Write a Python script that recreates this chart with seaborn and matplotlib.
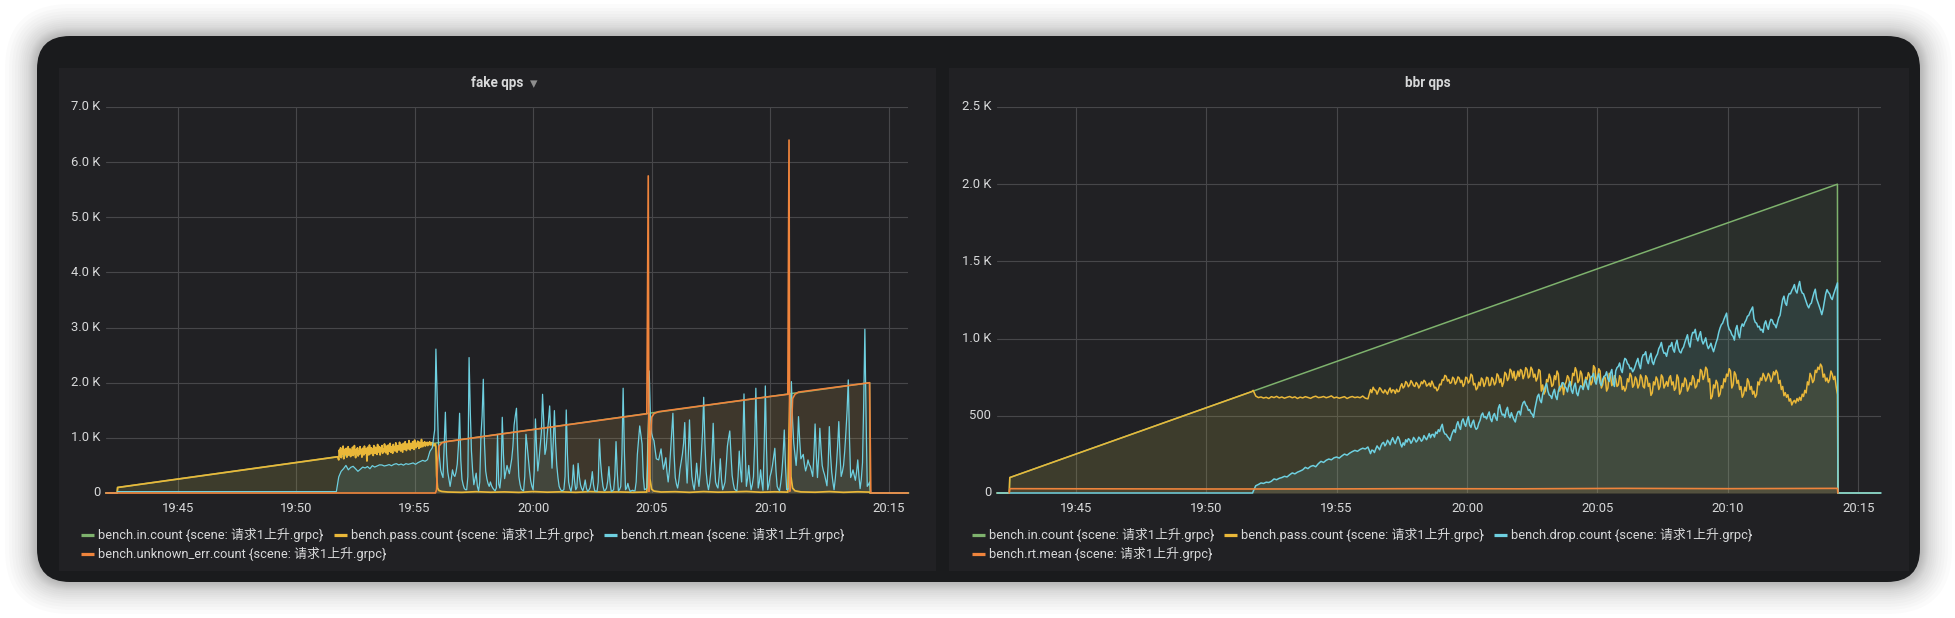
import numpy as np
import matplotlib
matplotlib.use("Agg")
import matplotlib.pyplot as plt
from matplotlib.patches import FancyBboxPatch, Rectangle
from matplotlib.lines import Line2D
from matplotlib.transforms import ScaledTranslation
import seaborn as sns

# time is minutes after 19:00
x_ticks = [45, 50, 55, 60, 65, 70, 75]
x_labels = ["19:45", "19:50", "19:55", "20:00", "20:05", "20:10", "20:15"]

fake_yticks = [0, 1000, 2000, 3000, 4000, 5000, 6000, 7000]
fake_ylabels = ["0", "1.0 K", "2.0 K", "3.0 K", "4.0 K", "5.0 K", "6.0 K", "7.0 K"]
bbr_yticks = [0, 500, 1000, 1500, 2000, 2500]
bbr_ylabels = ["0", "500", "1.0 K", "1.5 K", "2.0 K", "2.5 K"]

# offered load, same shape in both panels
in_t = [41.98, 42.45, 42.47, 45, 50, 55, 60, 65, 70, 74.2, 74.22, 75.85]
in_v = [0, 0, 100, 252, 552, 852, 1152, 1452, 1750, 2000, 0, 0]

ramp_t = [41.98, 42.45, 42.47, 45, 50, 51.75]
ramp_v = [0, 0, 100, 252, 552, 657]

# fake qps: pass.count from 19:51.8 to 19:55.9 while it still passes
fake_pass_noisy = [
    600, 780, 690, 820, 640, 760, 710, 850, 620, 790, 700, 730, 810, 650, 760, 840, 690, 720, 800, 660,
    770, 700, 830, 680, 750, 860, 710, 640, 790, 730, 820, 670, 760, 700, 840, 720, 780, 650, 810, 740,
    690, 850, 760, 720, 800, 580, 830, 750, 690, 870, 770, 710, 820, 740, 790, 680, 860, 760, 720, 830,
    770, 700, 880, 790, 740, 840, 690, 810, 770, 860, 720, 800, 750, 890, 780, 730, 850, 790, 700, 870,
    810, 760, 900, 740, 840, 800, 720, 880, 790, 830, 760, 910, 810, 740, 860, 800, 780, 920, 830, 760,
    880, 810, 740, 900, 850, 790, 930, 820, 770, 890, 840, 800, 950, 830, 780, 900, 860, 810, 930, 850,
    790, 960, 870, 820, 900, 850, 940, 880, 810, 920, 860, 830, 970, 880, 840, 910, 870, 930, 850, 900,
    880, 920, 860, 910, 890, 930, 870, 905, 880, 915, 850, 900, 880, 860, 890, 840,
]
fake_pass_tail_t = [55.93, 55.97, 56.03, 56.15, 56.4, 57, 57.6, 58.2, 58.8, 59.4, 60,
                    60.6, 61.2, 61.8, 62.4, 63, 63.6, 64.2, 64.8, 64.85, 64.89, 64.93, 65.0,
                    65.1, 65.4, 66, 66.6, 67.2, 67.8, 68.4, 69, 69.6, 70.2, 70.75, 70.8,
                    70.84, 70.88, 70.95, 71.05, 71.3, 71.9, 72.5, 73.1, 73.7, 74.2, 74.22, 75.82]
fake_pass_tail = [320, 90, 45, 28, 18, 12, 24, 14, 20, 11, 26,
                  15, 22, 12, 25, 16, 20, 13, 18, 900, 1430, 260, 70,
                  35, 18, 24, 12, 26, 15, 20, 28, 14, 22, 16, 1100,
                  1780, 300, 90, 40, 20, 14, 26, 12, 22, 16, 0, 0]

# fake qps: rt.mean
fake_rt_flat_t = [41.98, 42.45, 42.47, 45, 48, 51.7]
fake_rt_flat = [0, 0, 25, 25, 24, 25]
fake_rt_early = [
    290, 393, 440, 500, 420, 465, 484, 440, 393, 430,
    470, 454, 480, 440, 496, 470, 490, 510, 508, 490,
    500, 515, 495, 520, 532, 510, 525, 505, 532, 520,
    532, 545, 520, 550, 570, 592, 575, 605, 755, 820,
    1150,
]
fake_rt_late = [
    2610, 1800, 968, 650, 420, 340, 280, 900, 1465, 700, 380, 250, 120, 260, 420, 330, 300, 380, 520, 860,
    1446, 600, 250, 150, 80, 60, 60, 300, 2456, 1500, 760, 400, 150, 260, 360, 120, 40, 200, 1035, 1400,
    2063, 900, 400, 260, 170, 120, 200, 130, 90, 60, 40, 90, 1053, 160, 90, 300, 1373, 700, 260, 380,
    500, 420, 350, 480, 620, 850, 1234, 1400, 1537, 800, 300, 160, 70, 50, 40, 300, 1065, 860, 620, 400,
    220, 120, 60, 400, 1343, 800, 400, 600, 850, 1100, 1790, 1300, 700, 800, 1083, 1300, 1579, 1000, 450, 900,
    1494, 900, 500, 280, 120, 70, 40, 45, 60, 300, 1506, 700, 200, 90, 30, 150, 508, 220, 60, 100,
    538, 300, 150, 80, 40, 120, 236, 90, 30, 50, 90, 200, 387, 150, 40, 35, 30, 200, 974, 550,
    300, 120, 40, 50, 90, 220, 478, 180, 30, 40, 60, 300, 932, 400, 40, 60, 120, 700, 1900, 800,
    60, 90, 175, 80, 30, 40, 50, 40, 40, 200, 700, 950, 1216, 1050, 889, 300, 60, 70, 90, 700,
    2214, 1400, 1083, 1000, 950, 780, 620, 610, 600, 700, 800, 600, 430, 520, 640, 380, 200, 400, 760, 1100,
    1446, 700, 280, 160, 90, 220, 430, 560, 700, 900, 1277, 600, 180, 700, 1325, 700, 300, 150, 60, 250,
    540, 280, 120, 350, 700, 1100, 1736, 900, 400, 180, 60, 180, 380, 700, 1264, 600, 200, 130, 90, 300,
    620, 250, 60, 120, 200, 500, 850, 1000, 1125, 700, 320, 170, 70, 50, 40, 300, 760, 420, 200, 900,
    1797, 800, 120, 260, 500, 230, 60, 150, 300, 900, 1900, 900, 90, 200, 420, 200, 50, 800, 1942, 800,
    60, 150, 300, 380, 500, 650, 811, 400, 120, 70, 40, 180, 380, 700, 1143, 500, 60, 70, 80, 900,
    2020, 1300, 900, 700, 500, 800, 1385, 950, 620, 660, 700, 520, 400, 480, 600, 520, 480, 390, 300, 700,
    1252, 700, 280, 650, 1174, 800, 500, 400, 330, 230, 130, 500, 1204, 700, 380, 200, 60, 250, 500, 850,
    1295, 700, 300, 380, 500, 760, 1100, 1500, 2051, 1000, 280, 340, 420, 320, 230, 380, 600, 300, 80, 250,
    550, 1600, 2970, 1400, 120, 150, 200,
]

# fake qps: unknown_err.count
fake_err_t = [41.98, 55.88, 55.93, 55.97, 56.03, 56.15, 56.4, 60, 64.8, 64.86, 64.89, 64.93,
              65.0, 65.1, 65.3, 70, 70.75, 70.8, 70.83, 70.88, 70.95, 71.05, 71.2, 74.2, 74.25, 75.82]
fake_err = [0, 0, 60, 560, 850, 910, 935, 1150, 1437, 5750, 30, 800,
            1370, 1440, 1475, 1750, 1790, 6400, 30, 900, 1710, 1790, 1830, 2000, 0, 0]

# bbr qps: pass.count, flat part 19:51.8-19:56.2 then the noisy part to 20:14.2
bbr_pass_flat = [
    665, 628, 618, 622, 615, 620, 612, 624, 618, 626,
    616, 622, 614, 620, 625, 617, 623, 612, 621, 616,
    624, 619, 613, 622, 627, 618, 620, 625, 617, 622,
    629, 616, 621, 614, 619, 624, 612, 620, 625, 618,
    622, 617, 628, 614, 610,
]
bbr_pass_noisy = [
    670, 650, 685, 668, 665, 640, 660, 682, 672, 655,
    648, 668, 655, 640, 665, 680, 650, 668, 665, 645,
    672, 655, 660, 690, 708, 680, 690, 722, 712, 688,
    700, 728, 715, 695, 690, 716, 705, 680, 695, 720,
    708, 730, 720, 692, 700, 712, 690, 725, 705, 680,
    685, 662, 674, 705, 700, 735, 730, 762, 756, 725,
    735, 710, 715, 750, 740, 705, 720, 752, 745, 715,
    730, 690, 705, 750, 745, 712, 725, 770, 760, 700,
    710, 668, 680, 718, 695, 745, 735, 690, 710, 750,
    745, 695, 700, 748, 735, 700, 715, 772, 760, 715,
    740, 690, 715, 782, 770, 728, 745, 802, 790, 745,
    788, 730, 750, 790, 755, 800, 790, 740, 765, 812,
    800, 745, 756, 815, 799, 750, 770, 725, 745, 800,
    790, 660, 700, 640, 659, 735, 720, 770, 745, 690,
    700, 760, 734, 790, 770, 660, 680, 710, 637, 700,
    720, 760, 745, 690, 700, 775, 760, 812, 788, 715,
    730, 790, 770, 680, 700, 750, 734, 780, 760, 700,
    720, 825, 810, 725, 745, 805, 790, 680, 700, 755,
    745, 660, 680, 775, 760, 695, 713, 760, 740, 690,
    700, 760, 745, 670, 690, 660, 680, 740, 720, 775,
    756, 685, 700, 752, 735, 680, 702, 765, 745, 690,
    680, 760, 745, 690, 710, 632, 648, 720, 700, 752,
    734, 670, 690, 765, 750, 680, 700, 722, 691, 745,
    760, 700, 720, 665, 680, 765, 745, 640, 659, 710,
    690, 745, 730, 660, 680, 715, 700, 760, 740, 680,
    691, 735, 720, 800, 788, 735, 760, 815, 800, 720,
    740, 610, 626, 700, 680, 730, 710, 625, 640, 695,
    680, 740, 720, 770, 756, 805, 790, 680, 700, 785,
    767, 710, 730, 670, 690, 620, 637, 685, 660, 740,
    720, 670, 690, 640, 660, 620, 637, 720, 700, 745,
    730, 775, 756, 725, 745, 775, 760, 720, 740, 785,
    765, 795, 777, 710, 730, 670, 690, 630, 650, 620,
    637, 595, 610, 570, 590, 600, 583, 612, 595, 620,
    600, 640, 625, 665, 648, 720, 700, 775, 756, 715,
    730, 795, 780, 815, 800, 835, 820, 750, 770, 725,
    745, 715, 734, 790, 770, 735, 756, 690, 637,
]

# bbr qps: drop.count, same two time ranges
bbr_drop_flat = [
    10, 47, 55, 65, 62, 70, 68, 76, 91, 86,
    95, 100, 108, 104, 118, 130, 124, 135, 142, 150,
    166, 158, 172, 178, 170, 190, 205, 198, 212, 220,
    215, 228, 233, 226, 240, 252, 245, 258, 268, 276,
    270, 282, 290, 285, 298,
]
bbr_drop_noisy = [
    255, 278, 275, 262, 285, 305, 292, 280, 305, 322,
    328, 305, 318, 342, 330, 312, 340, 358, 335, 320,
    345, 365, 350, 318, 298, 325, 310, 345, 330, 352,
    345, 322, 335, 360, 348, 330, 340, 362, 352, 335,
    345, 372, 356, 345, 365, 385, 358, 378, 380, 362,
    395, 385, 410, 398, 425, 445, 400, 382, 380, 365,
    356, 340, 372, 395, 410, 392, 440, 462, 430, 412,
    464, 480, 448, 432, 470, 495, 440, 425, 455, 472,
    430, 412, 421, 452, 470, 505, 518, 490, 495, 480,
    505, 525, 480, 462, 500, 515, 486, 470, 550, 572,
    530, 505, 510, 490, 535, 555, 505, 488, 520, 495,
    475, 460, 500, 525, 530, 505, 560, 585, 594, 570,
    560, 535, 540, 518, 510, 490, 545, 585, 626, 640,
    600, 585, 640, 665, 691, 710, 660, 635, 630, 612,
    650, 672, 626, 605, 660, 688, 690, 715, 712, 690,
    680, 655, 700, 722, 665, 645, 690, 712, 648, 630,
    670, 695, 690, 670, 712, 735, 695, 670, 730, 752,
    756, 775, 725, 705, 750, 772, 712, 695, 735, 755,
    760, 785, 740, 722, 777, 800, 712, 690, 790, 812,
    820, 842, 800, 780, 840, 872, 864, 838, 830, 805,
    810, 785, 799, 825, 850, 872, 830, 805, 870, 895,
    896, 915, 860, 838, 880, 905, 850, 832, 864, 885,
    900, 935, 950, 975, 930, 905, 907, 885, 925, 952,
    950, 975, 930, 912, 965, 990, 940, 915, 907, 932,
    945, 975, 1001, 1025, 970, 945, 1010, 1040, 1037, 1060,
    1005, 985, 1020, 1045, 990, 965, 983, 1005, 960, 935,
    950, 970, 939, 915, 945, 975, 1000, 1040, 1069, 1090,
    1100, 1125, 1145, 1165, 1090, 1060, 1050, 1025, 1015, 990,
    1060, 1085, 1030, 1005, 1070, 1095, 1080, 1105, 1120, 1145,
    1150, 1172, 1188, 1205, 1130, 1105, 1100, 1075, 1080, 1055,
    1060, 1040, 1095, 1115, 1080, 1060, 1102, 1125, 1120, 1095,
    1090, 1070, 1102, 1135, 1150, 1205, 1253, 1275, 1230, 1215,
    1270, 1292, 1290, 1312, 1328, 1350, 1310, 1295, 1340, 1370,
    1317, 1295, 1290, 1265, 1240, 1215, 1199, 1222, 1230, 1265,
    1296, 1320, 1260, 1235, 1210, 1185, 1155, 1190, 1240, 1290,
    1317, 1300, 1290, 1265, 1253, 1285, 1310, 1335, 1361,
]
bbr_rt_t = [42.45, 42.47, 46, 50, 54, 58, 62, 66, 70, 74.2, 74.22]
bbr_rt = [0, 28, 27, 26, 26, 28, 27, 30, 28, 30, 0]

GREEN = "#7eb26d"
YELLOW = "#eab839"
CYAN = "#6ed0e0"
ORANGE = "#ef843c"
PANEL = "#212124"
WINDOW = "#1a1b1d"
TEXT = "#d8d9da"
GRID = "#47474a"

W, H = 1956, 618
PX = 72 / 100
FONTS = ["Roboto", "Noto Sans CJK SC", "DejaVu Sans"]

sns.set_theme(style="dark")
plt.rcParams["font.family"] = FONTS


def span(start, end, values):
    # regular sampling between two times
    return np.linspace(start, end, len(values))


def draw(ax, t, v, color, lw=1.1):
    sns.lineplot(x=t, y=v, color=color, linewidth=lw, estimator=None, legend=False,
                 ax=ax, clip_on=False, zorder=3)
    ax.fill_between(t, v, 0, color=color, alpha=0.1, linewidth=0, zorder=2)


def make_axes(fig, box, ylim, yticks, ylabels, xlim):
    left, top, right, bottom = box
    ax = fig.add_axes([left / W, 1 - bottom / H, (right - left) / W, (bottom - top) / H])
    ax.set_facecolor("none")
    ax.set_xlim(*xlim)
    ax.set_ylim(*ylim)
    ax.set_xticks(x_ticks, x_labels)
    ax.set_yticks(yticks, ylabels)
    ax.grid(True, color=GRID, linewidth=0.8)
    ax.set_axisbelow(True)
    ax.tick_params(axis="x", length=0, pad=6.3, labelsize=13 * PX, colors=TEXT)
    ax.tick_params(axis="y", length=0, pad=4.2, labelsize=13 * PX, colors=TEXT)
    # y labels sit a little above their grid line
    up = ScaledTranslation(0, 1.5 / 100, fig.dpi_scale_trans)
    for label in ax.get_yticklabels():
        label.set_transform(label.get_transform() + up)
    ax.set_xlabel("")
    ax.set_ylabel("")
    for spine in ax.spines.values():
        spine.set_visible(False)
    return ax


def legend_row(bg, items, y):
    for x0, color, label in items:
        bg.add_line(Line2D([x0, x0 + 13], [y, y], color=color, linewidth=3.2 * PX,
                           solid_capstyle="butt"))
        bg.text(x0 + 17, y, label, color=TEXT, fontsize=12.9 * PX, va="center", ha="left")


fig = plt.figure(figsize=(W / 100, H / 100), dpi=100, facecolor="white")

# window chrome in pixel coordinates
bg = fig.add_axes([0, 0, 1, 1])
bg.set_xlim(0, W)
bg.set_ylim(H, 0)
bg.axis("off")
for pad in [32, 28, 25, 22, 19, 17, 15, 13, 11, 9, 8, 7, 6, 5, 4, 3, 2, 1]:
    bg.add_patch(FancyBboxPatch((37 - pad, 36 - pad), 1883 + 2 * pad, 546 + 2 * pad,
                                boxstyle=f"round,pad=0,rounding_size={33 + pad}",
                                facecolor="black", edgecolor="none", alpha=0.016))
bg.add_patch(FancyBboxPatch((37, 36), 1883, 546, boxstyle="round,pad=0,rounding_size=33",
                            facecolor=WINDOW, edgecolor="none"))
bg.add_patch(Rectangle((59, 68), 877, 503, facecolor=PANEL, edgecolor="none"))
bg.add_patch(Rectangle((949, 68), 960, 503, facecolor=PANEL, edgecolor="none"))

bg.text(497, 83, "fake qps", color=TEXT, fontsize=13.5 * PX, fontweight="bold",
        ha="center", va="center")
bg.text(534, 84, "▾", color="#8e8e8e", fontsize=15 * PX, ha="center", va="center")
bg.text(1428, 83, "bbr qps", color=TEXT, fontsize=13.5 * PX, fontweight="bold",
        ha="center", va="center")

scene = " {scene: 请求1上升.grpc}"
legend_row(bg, [(81, GREEN, "bench.in.count" + scene),
                (334, YELLOW, "bench.pass.count" + scene),
                (604, CYAN, "bench.rt.mean" + scene)], 535)
legend_row(bg, [(81, ORANGE, "bench.unknown_err.count" + scene)], 554)
legend_row(bg, [(972, GREEN, "bench.in.count" + scene),
                (1224, YELLOW, "bench.pass.count" + scene),
                (1494, CYAN, "bench.drop.count" + scene)], 535)
legend_row(bg, [(972, ORANGE, "bench.rt.mean" + scene)], 554)

# fake qps panel
ax1 = make_axes(fig, (106, 107, 908, 493), (0, 7000), fake_yticks, fake_ylabels, (41.98, 75.82))
fake_pass_t = np.concatenate([ramp_t, span(51.8, 55.9, fake_pass_noisy), fake_pass_tail_t])
fake_pass_v = np.concatenate([ramp_v, fake_pass_noisy, fake_pass_tail])
fake_rt_t = np.concatenate([fake_rt_flat_t, span(51.8, 55.85, fake_rt_early),
                            span(55.9, 74.2, fake_rt_late), [74.25, 75.82]])
fake_rt_v = np.concatenate([fake_rt_flat, fake_rt_early, fake_rt_late, [0, 0]])
draw(ax1, np.array(in_t), np.array(in_v), GREEN)
draw(ax1, fake_pass_t, fake_pass_v, YELLOW, lw=1.25)
draw(ax1, fake_rt_t, fake_rt_v, CYAN, lw=0.9)
draw(ax1, np.array(fake_err_t), np.array(fake_err), ORANGE, lw=1.2)

# bbr qps panel
ax2 = make_axes(fig, (997, 107, 1881, 493), (0, 2500), bbr_yticks, bbr_ylabels, (41.98, 75.87))
bbr_pass_t = np.concatenate([ramp_t, span(51.8, 56.2, bbr_pass_flat),
                             span(56.3, 74.2, bbr_pass_noisy), [74.22, 75.85]])
bbr_pass_v = np.concatenate([ramp_v, bbr_pass_flat, bbr_pass_noisy, [0, 0]])
bbr_drop_t = np.concatenate([[41.98, 51.78], span(51.8, 56.2, bbr_drop_flat),
                             span(56.3, 74.2, bbr_drop_noisy), [74.22, 75.87]])
bbr_drop_v = np.concatenate([[0, 0], bbr_drop_flat, bbr_drop_noisy, [0, 0]])
draw(ax2, np.array(in_t), np.array(in_v), GREEN)
draw(ax2, bbr_pass_t, bbr_pass_v, YELLOW)
draw(ax2, bbr_drop_t, bbr_drop_v, CYAN)
draw(ax2, np.array(bbr_rt_t), np.array(bbr_rt), ORANGE, lw=1.2)

fig.savefig("out.png", dpi=100, facecolor="white")
